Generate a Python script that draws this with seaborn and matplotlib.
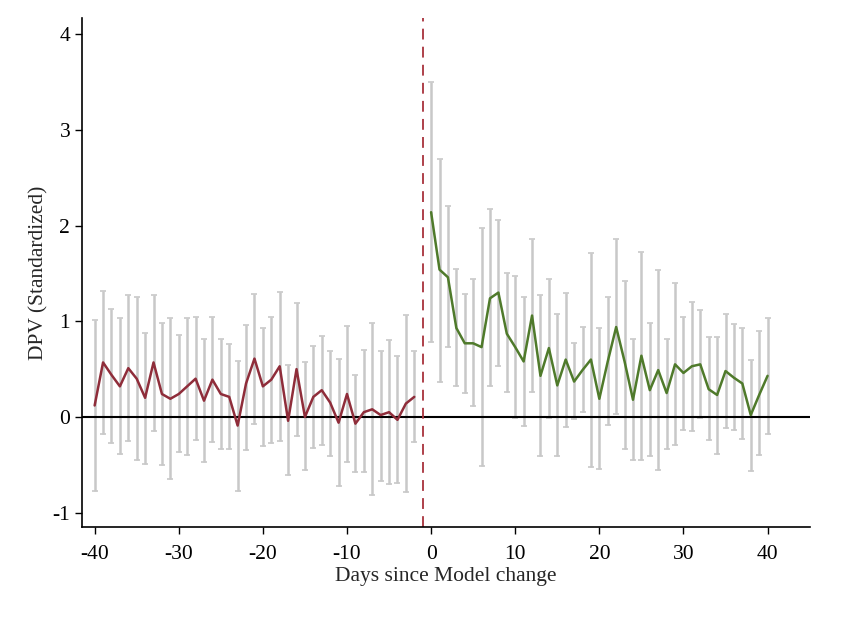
import numpy as np
import matplotlib
matplotlib.use('Agg')
import matplotlib.pyplot as plt
import pandas as pd
import seaborn as sns

# pre-period, days -40 .. -2
pre_days = list(range(-40, -1))
pre_coef = [0.12, 0.57, 0.44, 0.32, 0.51, 0.40, 0.20, 0.57, 0.24, 0.19,
            0.24, 0.32, 0.40, 0.17, 0.39, 0.24, 0.21, -0.09, 0.35, 0.61,
            0.32, 0.39, 0.53, -0.04, 0.50, 0.00, 0.21, 0.28, 0.15, -0.06,
            0.24, -0.07, 0.05, 0.08, 0.02, 0.05, -0.03, 0.14, 0.21]
pre_hi = [1.01, 1.32, 1.13, 1.03, 1.27, 1.25, 0.88, 1.27, 0.98, 1.03,
          0.86, 1.03, 1.04, 0.81, 1.05, 0.81, 0.76, 0.58, 0.96, 1.29,
          0.93, 1.04, 1.31, 0.54, 1.19, 0.57, 0.74, 0.85, 0.69, 0.61,
          0.95, 0.44, 0.70, 0.98, 0.69, 0.80, 0.64, 1.07, 0.69]
pre_lo = [-0.77, -0.18, -0.27, -0.39, -0.25, -0.45, -0.49, -0.15, -0.50, -0.65,
          -0.37, -0.40, -0.24, -0.47, -0.26, -0.34, -0.33, -0.77, -0.35, -0.07,
          -0.30, -0.27, -0.25, -0.61, -0.20, -0.55, -0.32, -0.29, -0.41, -0.72,
          -0.47, -0.58, -0.58, -0.82, -0.67, -0.70, -0.69, -0.78, -0.26]

# post-period, days 0 .. 40
post_days = list(range(0, 41))
post_coef = [2.14, 1.54, 1.46, 0.93, 0.77, 0.77, 0.73, 1.24, 1.30, 0.87,
             0.73, 0.58, 1.06, 0.43, 0.72, 0.33, 0.60, 0.37, 0.49, 0.60,
             0.19, 0.58, 0.94, 0.58, 0.18, 0.64, 0.28, 0.49, 0.25, 0.55,
             0.46, 0.53, 0.55, 0.29, 0.23, 0.48, 0.41, 0.35, 0.02, 0.23,
             0.43]
post_hi = [3.50, 2.70, 2.20, 1.55, 1.29, 1.44, 1.97, 2.17, 2.06, 1.50,
           1.47, 1.25, 1.86, 1.27, 1.44, 1.08, 1.30, 0.77, 0.94, 1.71,
           0.93, 1.25, 1.86, 1.42, 0.82, 1.72, 0.98, 1.54, 0.82, 1.40,
           1.05, 1.20, 1.12, 0.84, 0.84, 1.08, 0.97, 0.93, 0.60, 0.90,
           1.03]
post_lo = [0.78, 0.37, 0.73, 0.32, 0.25, 0.11, -0.51, 0.32, 0.53, 0.26,
           -0.01, -0.09, 0.26, -0.41, -0.01, -0.41, -0.11, -0.02, 0.05, -0.52,
           -0.54, -0.08, 0.03, -0.34, -0.45, -0.45, -0.41, -0.55, -0.34, -0.29,
           -0.14, -0.15, -0.01, -0.24, -0.39, -0.12, -0.14, -0.23, -0.56, -0.40,
           -0.18]

x_ticks = [-40, -30, -20, -10, 0, 10, 20, 30, 40]
y_ticks = [-1, 0, 1, 2, 3, 4]

pre = pd.DataFrame({'day': pre_days, 'coef': pre_coef, 'lo': pre_lo, 'hi': pre_hi})
post = pd.DataFrame({'day': post_days, 'coef': post_coef, 'lo': post_lo, 'hi': post_hi})

sns.set_style('ticks')
plt.rcParams['font.family'] = ['Liberation Serif', 'DejaVu Serif']
plt.rcParams['axes.unicode_minus'] = False

fig = plt.figure(figsize=(8.5, 6.2), dpi=100)
ax = fig.add_axes([0.0965, 0.15, 0.856, 0.821])

ci_color = '#c8c8c8'
for df in (pre, post):
    ax.errorbar(df['day'], df['coef'], yerr=[df['coef'] - df['lo'], df['hi'] - df['coef']],
                fmt='none', ecolor=ci_color, elinewidth=1.8, capsize=2.5, capthick=1.2, zorder=1)

ax.axhline(0, color='black', lw=1.5, zorder=2)
ax.axvline(-1, color='#a8323c', lw=1.3, ls=(0, (6, 4)), zorder=2)

sns.lineplot(data=pre, x='day', y='coef', color='#8f2d3a', lw=1.8, ax=ax, zorder=3)
sns.lineplot(data=post, x='day', y='coef', color='#4f7a2b', lw=1.8, ax=ax, zorder=3)

ax.set_xlim(-41.5, 45)
ax.set_ylim(-1.15, 4.17)
ax.set_xticks(x_ticks)
ax.set_yticks(y_ticks)
ax.tick_params(axis='both', labelsize=15.5, length=5, width=1, direction='out', colors='black')
ax.tick_params(axis='x', pad=8)
ax.set_xlabel('Days since Model change', fontsize=15.5, labelpad=2)
ax.set_ylabel('DPV (Standardized)', fontsize=15.5, labelpad=3)
for s in ('top', 'right'):
    ax.spines[s].set_visible(False)
for s in ('left', 'bottom'):
    ax.spines[s].set_linewidth(1.2)
    ax.spines[s].set_color('black')

fig.savefig('out.png', dpi=100)
